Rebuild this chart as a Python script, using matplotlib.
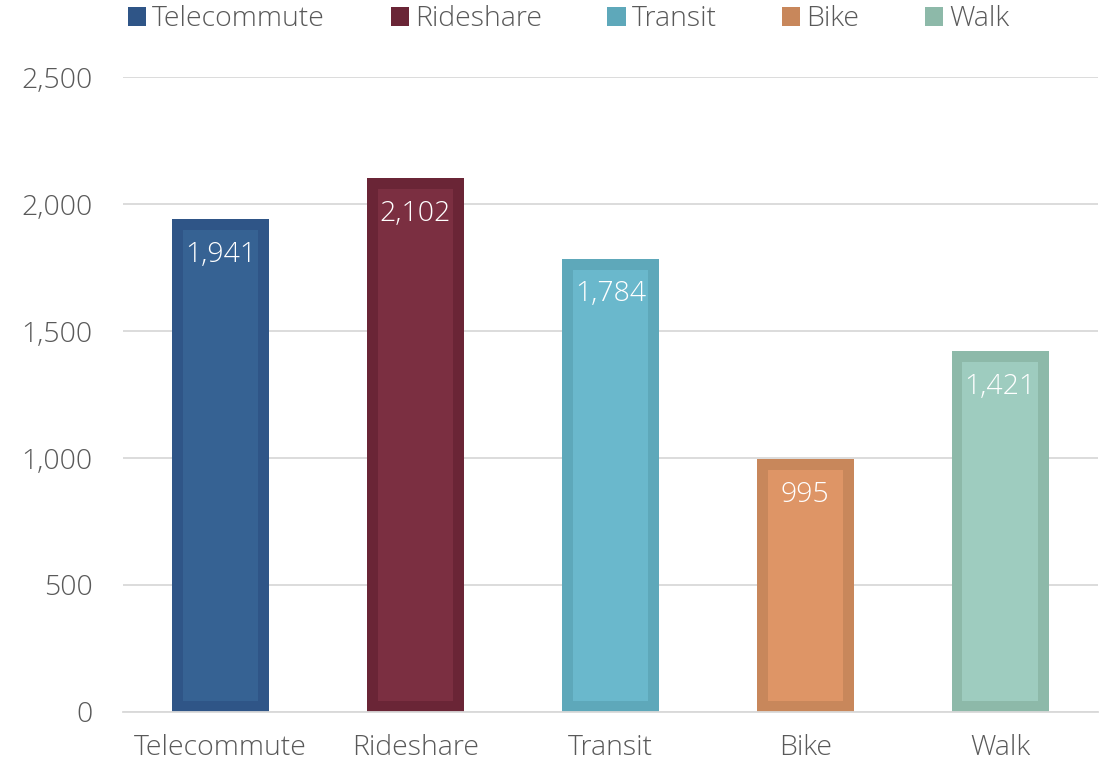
import matplotlib
matplotlib.use("Agg")
import matplotlib.pyplot as plt
from matplotlib.patches import Patch

categories = ["Telecommute", "Rideshare", "Transit", "Bike", "Walk"]
values = [1941, 2102, 1784, 995, 1421]
labels = ["1,941", "2,102", "1,784", "995", "1,421"]
yticks = [0, 500, 1000, 1500, 2000, 2500]
ytick_labels = ["0", "500", "1,000", "1,500", "2,000", "2,500"]
edge_colors = ["#2F5587", "#6A2536", "#5EA8BA", "#C8875B", "#8DB9A9"]
fill_colors = ["#366293", "#7B2F41", "#6AB8CC", "#DE9566", "#9ECCBF"]

plt.rcParams['font.family'] = ['Open Sans', 'DejaVu Sans']
plt.rcParams['font.weight'] = 'light'
FS = 20.5
fig = plt.figure(figsize=(11.19, 7.65), dpi=100)
ax = fig.add_axes([0.110, 0.0693, 0.871, 0.830])

x = list(range(len(categories)))
bw = 0.5
inset_x = 0.056
inset_y = 42
ax.bar(x, values, width=bw, color=edge_colors, zorder=2)
ax.bar(x, [v - 2 * inset_y for v in values], bottom=inset_y, width=bw - 2 * inset_x,
       color=fill_colors, zorder=3)
for xi, v, lab in zip(x, values, labels):
    ax.text(xi, v - 140, lab, ha='center', va='center', color='white', fontsize=FS,
            fontweight='light', zorder=4)

ax.set_xlim(-0.5, 4.5)
ax.set_ylim(0, 2500)
ax.set_yticks(yticks)
ax.set_yticklabels(ytick_labels)
ax.set_xticks(x)
ax.set_xticklabels(categories)
ax.tick_params(axis='both', length=0, labelsize=FS, labelcolor='#595959')
ax.tick_params(axis='y', pad=22)
ax.tick_params(axis='x', pad=16)
ax.grid(axis='y', color='#D9D9D9', linewidth=1.3, zorder=0)
ax.set_axisbelow(True)
for s in ['left', 'right', 'top']:
    ax.spines[s].set_visible(False)
ax.spines['bottom'].set_color('#D9D9D9')
ax.spines['bottom'].set_linewidth(1.3)

handles = [Patch(facecolor=c, edgecolor='none') for c in edge_colors]
fig.legend(handles, categories, loc='center', bbox_to_anchor=(0.508, 0.975), ncol=5,
           frameon=False, labelcolor='#595959', handlelength=0.65,
           handleheight=0.65, handletextpad=0.2, columnspacing=2.3,
           prop={'weight': 'light', 'size': FS})

fig.savefig("out.png", dpi=100)
